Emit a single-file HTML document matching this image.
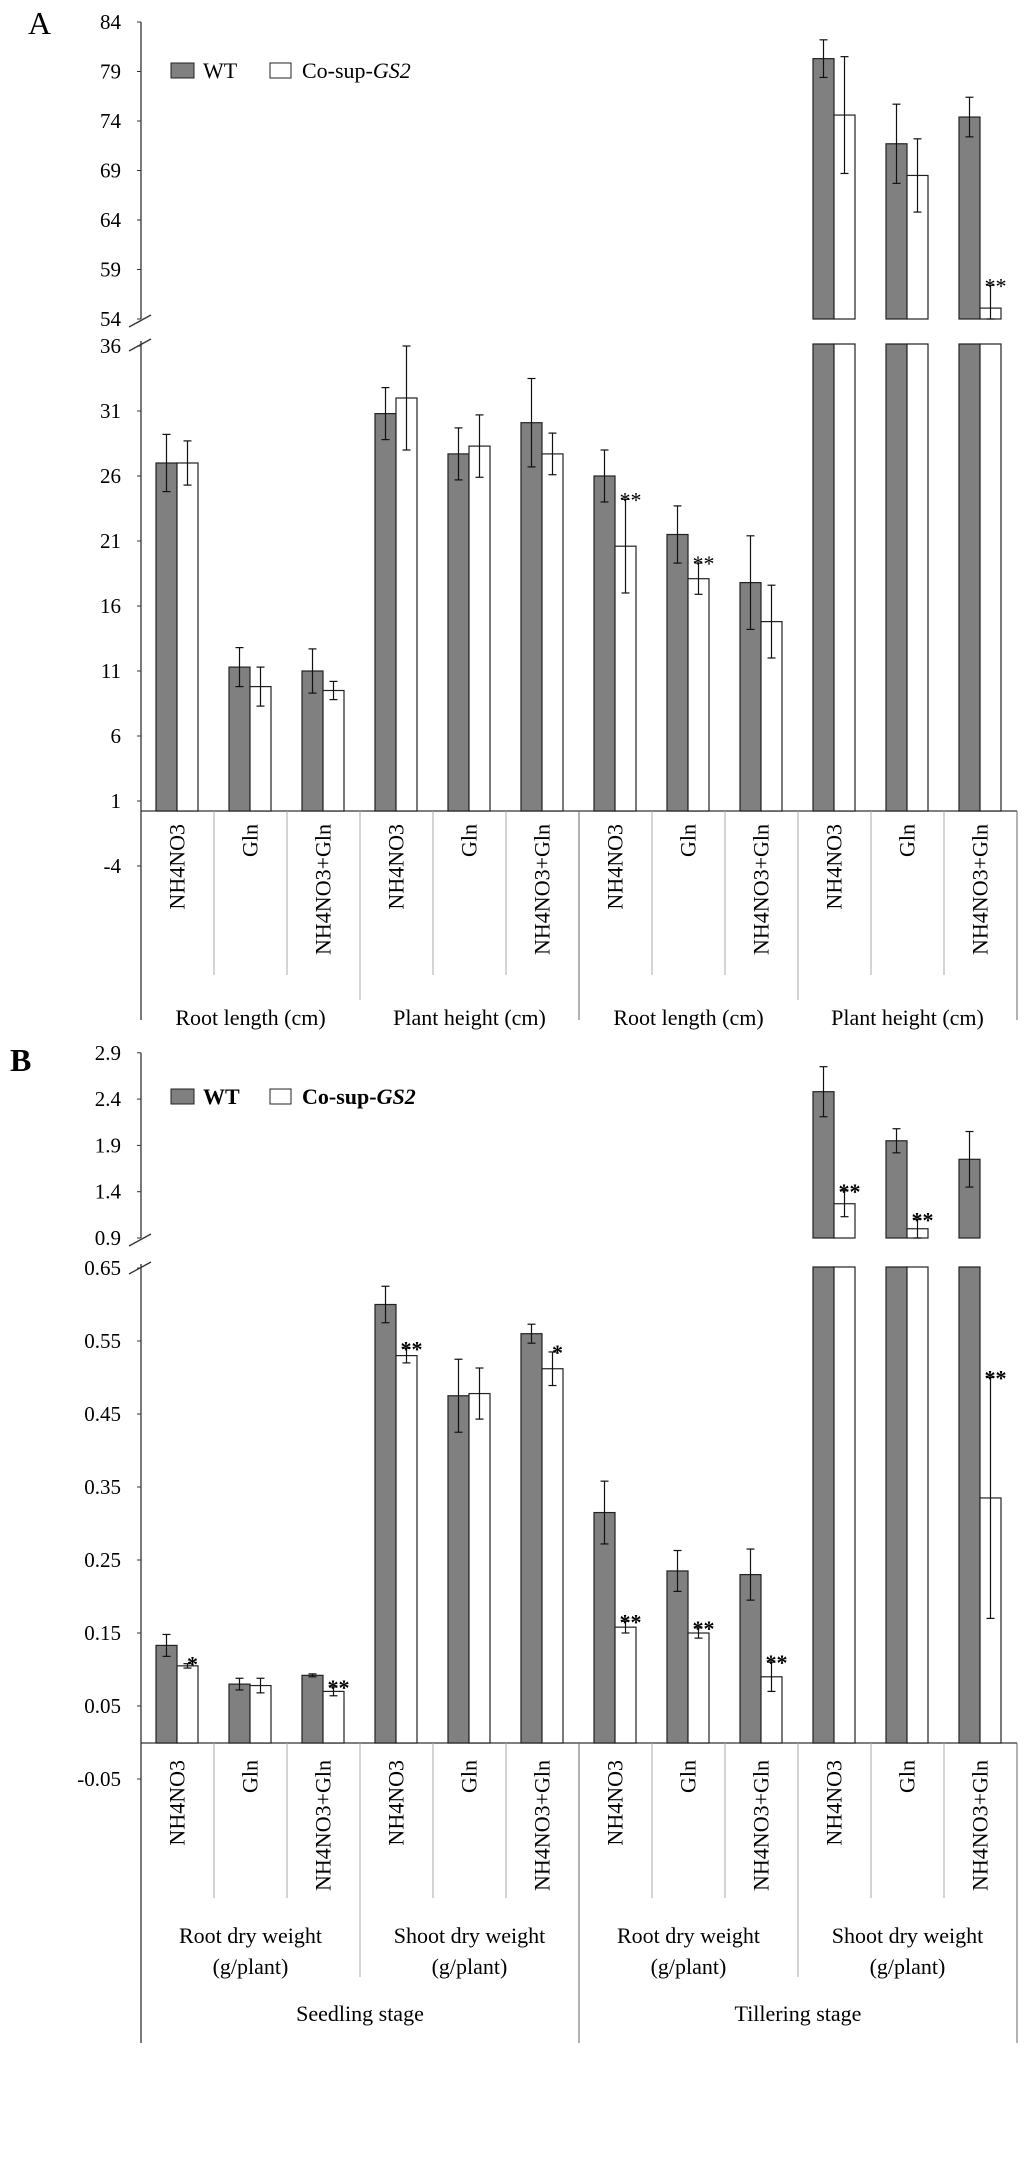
<!DOCTYPE html>
<html><head><meta charset="utf-8"><style>
body{margin:0;background:#fff}
svg{display:block;font-family:"Liberation Serif",serif}
</style></head><body>
<svg id="c" width="1024" height="2167" viewBox="0 0 1024 2167"></svg>
<script>
const catLabels=["NH4NO3","Gln","NH4NO3+Gln","NH4NO3","Gln","NH4NO3+Gln","NH4NO3","Gln","NH4NO3+Gln","NH4NO3","Gln","NH4NO3+Gln"];
const groupLabelsA=["Root length (cm)","Plant height (cm)","Root length (cm)","Plant height (cm)"];
const groupLabelsB=[["Root dry weight","(g/plant)"],["Shoot dry weight","(g/plant)"],["Root dry weight","(g/plant)"],["Shoot dry weight","(g/plant)"]];
const stageLabels=["Seedling stage","Tillering stage"];
const wtA=[27,11.3,11,30.8,27.7,30.1,26,21.5,17.8,80.3,71.7,74.4];
const wtAerr=[2.2,1.5,1.7,2,2,3.4,2,2.2,3.6,1.9,4,2];
const coA=[27,9.8,9.5,32,28.3,27.7,20.6,18.1,14.8,74.6,68.5,55.1];
const coAerr=[1.7,1.5,0.7,4,2.4,1.6,3.6,1.2,2.8,5.9,3.7,2.3];
const sigA=["","","","","","","**","**","","","","**"];
const ticksAlow=[36,31,26,21,16,11,6,1,-4];
const ticksAup=[84,79,74,69,64,59,54];
const wtB=[0.133,0.08,0.092,0.60,0.475,0.56,0.315,0.235,0.23,2.48,1.95,1.75];
const wtBerr=[0.015,0.008,0.002,0.025,0.05,0.013,0.043,0.028,0.035,0.27,0.13,0.3];
const coB=[0.105,0.078,0.07,0.53,0.478,0.512,0.158,0.15,0.09,1.27,1.0,0.335];
const coBerr=[0.003,0.01,0.006,0.01,0.035,0.023,0.008,0.007,0.02,0.14,0.1,0.165];
const sigB=["*","","**","**","","*","**","**","**","**","**","**"];
const ticksBlow=["0.65","0.55","0.45","0.35","0.25","0.15","0.05","-0.05"];
const ticksBup=["2.9","2.4","1.9","1.4","0.9"];

const NS="http://www.w3.org/2000/svg";
const svg=document.getElementById('c');
function mk(tag,attrs,txt,parent){const e=document.createElementNS(NS,tag);for(const k in attrs)e.setAttribute(k,attrs[k]);if(txt!=null)e.textContent=txt;(parent||svg).appendChild(e);return e;}
const X0=141,CW=73,X1=X0+12*CW;

function panel(cfg){
  const g=mk('g',{});
  
  
  const yL=v=>cfg.z0-v*cfg.kL, yU=v=>cfg.uBase-(v-cfg.uMin)*cfg.kU;
  const L=mk('text',{x:cfg.letterX,y:cfg.letterY,'font-size':32,'font-weight':cfg.bold?'bold':'normal'},cfg.letter,g);
  
  const ax=mk('g',{stroke:'#333','stroke-width':1.3},null,g);
  
  mk('line',{x1:X0,y1:yU(cfg.uTop),x2:X0,y2:cfg.uBase},null,ax);
  mk('line',{x1:X0,y1:cfg.lowTop,x2:X0,y2:cfg.stageEnd},null,ax);
  mk('line',{x1:X0-12,y1:cfg.uBase+8,x2:X0+10,y2:cfg.uBase-4},null,ax);
  mk('line',{x1:X0-12,y1:cfg.lowTop+10,x2:X0+10,y2:cfg.lowTop-2},null,ax);
  mk('line',{x1:X0,y1:cfg.base,x2:X1,y2:cfg.base},null,ax);
  cfg.tLow.forEach(t=>{const v=parseFloat(t),y=yL(v);
    mk('line',{x1:X0-4,y1:y,x2:X0,y2:y,stroke:'#333'},null,g);
    const e=mk('text',{x:121,y:y+7,'text-anchor':'end','font-size':21},String(t),g);
    });
  cfg.tUp.forEach(t=>{const v=parseFloat(t),y=yU(v);
    mk('line',{x1:X0-4,y1:y,x2:X0,y2:y,stroke:'#333'},null,g);
    const e=mk('text',{x:121,y:y+7,'text-anchor':'end','font-size':21},String(t),g);
    });
  for(let i=1;i<=12;i++){const x=X0+i*CW;let y2=cfg.shortEnd,col='#aaa';
    if(i%3==0)y2=cfg.groupEnd;if(i%6==0){y2=cfg.stageEnd;col='#666';}
    mk('line',{x1:x,y1:cfg.base,x2:x,y2:y2,stroke:col,'stroke-width':1},null,g);}
  function bar(i,off,v,err,fill,nm,sig){
    const x=X0+i*CW+15+off, w=21;
    const b=mk('g',{},null,g);
    
    let topY,ey1,ey2;
    if(v>cfg.brk){
      mk('rect',{x:x,y:cfg.lowTop+3,width:w,height:cfg.base-cfg.lowTop-3,fill:fill,stroke:'#222','stroke-width':1.2},null,b);
      topY=yU(v);
      mk('rect',{x:x,y:topY,width:w,height:cfg.uBase-topY,fill:fill,stroke:'#222','stroke-width':1.2},null,b);
      ey1=yU(v+err);ey2=Math.min(yU(v-err),cfg.uBase);
    }else{
      topY=yL(v);
      mk('rect',{x:x,y:topY,width:w,height:cfg.base-topY,fill:fill,stroke:'#222','stroke-width':1.2},null,b);
      ey1=yL(v+err);ey2=yL(v-err);
    }
    const cx=x+w/2;
    mk('line',{x1:cx,y1:ey1,x2:cx,y2:ey2,stroke:'#111','stroke-width':1.2},null,b);
    mk('line',{x1:cx-4,y1:ey1,x2:cx+4,y2:ey1,stroke:'#111','stroke-width':1.2},null,b);
    mk('line',{x1:cx-4,y1:ey2,x2:cx+4,y2:ey2,stroke:'#111','stroke-width':1.2},null,b);
    if(sig){const s=mk('text',{x:cx+5,y:ey1+8,'text-anchor':'middle','font-size':22,'font-weight':cfg.bold?'bold':'normal'},sig,g);
      }
  }
  for(let i=0;i<12;i++){
    bar(i,0,cfg.wt[i],cfg.wtE[i],'#808080','wt-bar',null);
    bar(i,21,cfg.co[i],cfg.coE[i],'#fff','co-sup-bar',cfg.sig[i]);
  }
  catLabels.forEach((t,i)=>{const cx=X0+i*CW+CW/2+7;
    const e=mk('text',{x:cx,y:cfg.catY,'font-size':22,'text-anchor':'end',transform:`rotate(-90 ${cx} ${cfg.catY})`},t,g);
    });
  cfg.groups.forEach((t,i)=>{const cx=X0+(i*3+1.5)*CW;
    const lines=Array.isArray(t)?t:[t];
    lines.forEach((s,j)=>{const e=mk('text',{x:cx,y:cfg.groupY+j*31,'font-size':22,'text-anchor':'middle'},s,g);
      });});
  if(cfg.stages){cfg.stages.forEach((t,i)=>{const e=mk('text',{x:X0+(i*6+3)*CW,y:cfg.stageY,'font-size':22,'text-anchor':'middle'},t,g);
    });}
  const lg=mk('g',{},null,g);
  mk('rect',{x:171,y:cfg.legY-8,width:23,height:15,fill:'#808080',stroke:'#222'},null,lg);
  mk('text',{x:203,y:cfg.legY+7,'font-size':22,'font-weight':cfg.bold?'bold':'normal'},'WT',lg);
  mk('rect',{x:270,y:cfg.legY-8,width:21,height:15,fill:'#fff',stroke:'#222'},null,lg);
  const t=mk('text',{x:302,y:cfg.legY+7,'font-size':22,'font-weight':cfg.bold?'bold':'normal'},null,lg);
  mk('tspan',{},'Co-sup-',t);mk('tspan',{'font-style':'italic'},'GS2',t);
}
panel({name:'panel-a',letter:'A',letterX:28,letterY:34,bold:false,z0:814,kL:13,uBase:319,uMin:54,kU:9.9,uTop:84,
  lowTop:341,base:811,brk:36,tLow:ticksAlow,tUp:ticksAup,wt:wtA,wtE:wtAerr,co:coA,coE:coAerr,sig:sigA,
  shortEnd:975,groupEnd:1000,stageEnd:1020,catY:824,groups:groupLabelsA,groupY:1025,legY:71});
panel({name:'panel-b',letter:'B',letterX:10,letterY:1071,bold:true,z0:1742.5,kL:730,uBase:1238,uMin:0.9,kU:92.6,uTop:2.9,
  lowTop:1264,base:1743,brk:0.65,tLow:ticksBlow,tUp:ticksBup,wt:wtB,wtE:wtBerr,co:coB,coE:coBerr,sig:sigB,
  shortEnd:1898,groupEnd:1977,stageEnd:2043,catY:1760,groups:groupLabelsB,groupY:1943,stages:stageLabels,stageY:2021,legY:1097});
</script>
</body></html>
